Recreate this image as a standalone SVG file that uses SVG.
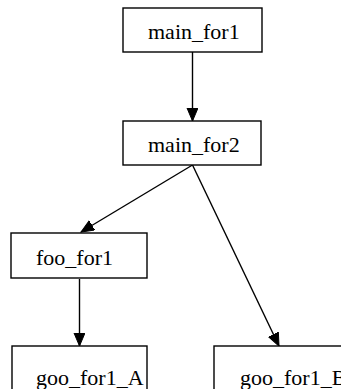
<svg xmlns="http://www.w3.org/2000/svg" width="341" height="389" viewBox="0 0 341 389">
<style>
.box{fill:#fff;stroke:#000;stroke-width:1.4}
.lbl{font-family:"Liberation Serif","Times New Roman",serif;font-size:22px;fill:#000}
.edge{stroke:#000;stroke-width:1.4;fill:none}
</style>
<defs>
<marker id="ah" markerUnits="userSpaceOnUse" markerWidth="14" markerHeight="12" refX="13" refY="5.5" orient="auto" viewBox="0 0 14 12">
<path d="M0,0 L13,5.5 L0,11 Z" fill="#000" stroke="#000" stroke-width="1"/>
</marker>
</defs>
<rect width="341" height="389" fill="#fff"/>
<g id="edges">
<line class="edge" x1="192.5" y1="52" x2="192.5" y2="121" marker-end="url(#ah)"/>
<line class="edge" x1="192.5" y1="165" x2="81" y2="232" marker-end="url(#ah)"/>
<line class="edge" x1="79.5" y1="279" x2="79.5" y2="346" marker-end="url(#ah)"/>
<line class="edge" x1="192.5" y1="165" x2="279" y2="346" marker-end="url(#ah)"/>
</g>
<g id="main_for1">
<rect class="box" x="123" y="8" width="139" height="44"/>
<text class="lbl" x="148" y="39">main_for1</text>
</g>
<g id="main_for2">
<rect class="box" x="123" y="121" width="138" height="44"/>
<text class="lbl" x="148" y="152">main_for2</text>
</g>
<g id="foo_for1">
<rect class="box" x="11" y="233" width="136" height="45"/>
<text class="lbl" x="36" y="265">foo_for1</text>
</g>
<g id="goo_for1_A">
<rect class="box" x="12" y="346" width="135" height="44"/>
<text class="lbl" x="36" y="385">goo_for1_A</text>
</g>
<g id="goo_for1_B">
<rect class="box" x="214" y="346" width="140" height="44"/>
<text class="lbl" x="240" y="385">goo_for1_B</text>
</g>
</svg>
